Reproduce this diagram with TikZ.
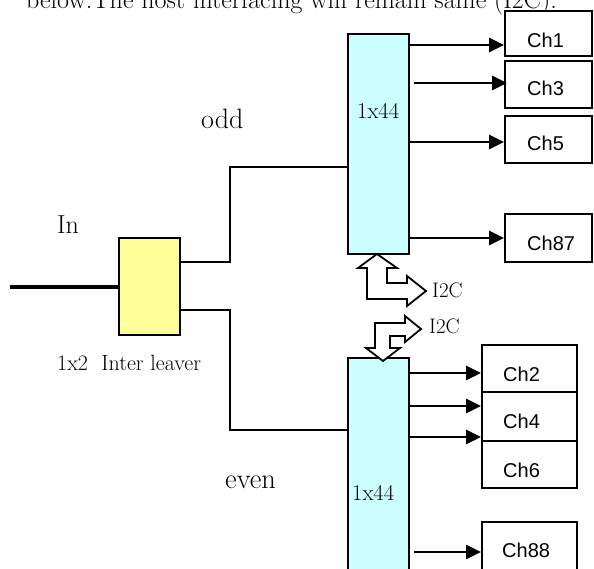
\documentclass[tikz,border=0pt]{standalone}
\usepackage{fontspec}
\newfontfamily\arialf{Liberation Sans}
\usetikzlibrary{arrows.meta,calc}
\definecolor{boxcyan}{HTML}{CCFFFF}
\definecolor{boxyellow}{HTML}{FFFF99}
\begin{document}
\begin{tikzpicture}[x=1pt,y=-1pt,
  mux/.style={draw, line width=1.8pt, fill=boxcyan, inner sep=0pt, minimum width=61pt},
  ilbox/.style={draw, line width=1.8pt, fill=boxyellow, inner sep=0pt},
  chbox/.style={draw, line width=1.8pt, fill=white, inner sep=0pt},
  chlabel/.style={anchor=base west, inner sep=0pt, font=\arialf\fontsize{20}{24}\selectfont},
  serif/.style={anchor=base west, inner sep=0pt, font=\fontsize{#1}{#1}\selectfont},
  wire/.style={line width=2pt},
  arr/.style={line width=2.6pt, -{Triangle[length=15pt,width=14pt]}},
  ifarrow/.style={draw, line width=1.8pt, fill=white, line join=miter}
]
\clip (0,0) rectangle (594,568);
\fill[white] (0,0) rectangle (594,568);

% top text (cut off by the page edge)
\node[serif=26] (toptext) at (26,8) {below.The host interfacing will remain same (I2C).};

% multiplexer boxes
\node[mux, minimum height=220pt] (up) at (378.5,144) {};
\node[mux, minimum height=242pt] (lo) at (378.5,479) {};
\node[serif=22.5] (upl) at (357,118) {1x44};
\node[serif=22.5] (lol) at (352,500) {1x44};

% interleaver
\node[ilbox, minimum width=61pt, minimum height=97pt] (il) at (149.5,286.5) {};
\coordinate (in) at (10,286.5);
\draw[line width=4pt] (in) -- (il.west);

% labels
\node[serif=26] (inl) at (57,233) {In};
\node[serif=28] (oddl) at (201,128) {odd};
\node[serif=28.5] (evenl) at (225,488) {even};
\node[serif=22] (ill) at (57,370) {1x2\ \ Inter leaver};

% interleaver outputs
\draw[wire] (il.east |- 0,262) -- ++(49,0) |- (up.west |- 0,167);
\draw[wire] (il.east |- 0,310) -- ++(49,0) |- (lo.west |- 0,430);

% upper channel boxes
\node[chbox, minimum width=87pt, minimum height=45pt] (ch1) at (548.5,33.5) {};
\node[chbox, minimum width=87pt, minimum height=47pt] (ch3) at (548.5,84.5) {};
\node[chbox, minimum width=87pt, minimum height=47pt] (ch5) at (548.5,139.5) {};
\node[chbox, minimum width=87pt, minimum height=48pt] (ch87) at (548.5,238) {};
\node[chlabel] (ch1l) at (527,47) {Ch1};
\node[chlabel] (ch3l) at (527,95) {Ch3};
\node[chlabel] (ch5l) at (527,150) {Ch5};
\node[chlabel] (ch87l) at (527,250) {Ch87};

% lower channel boxes
\node[chbox, minimum width=95pt, minimum height=47pt] (ch2) at (529.5,368.5) {};
\node[chbox, minimum width=95pt, minimum height=49pt] (ch4) at (529.5,416.5) {};
\node[chbox, minimum width=95pt, minimum height=47pt] (ch6) at (529.5,464.5) {};
\node[chbox, minimum width=95pt, minimum height=78pt] (ch88) at (529.5,561) {};
\node[chlabel] (ch2l) at (503,381) {Ch2};
\node[chlabel] (ch4l) at (503,428) {Ch4};
\node[chlabel] (ch6l) at (503,477) {Ch6};
\node[chlabel] (ch88l) at (502,557) {Ch88};

% arrows upper
\draw[arr] (up.east |- 0,45) -- (ch1.west |- 0,45);
\draw[arr] ($(up.east |- 0,83)+(4,0)$) -- ($(ch3.west |- 0,83)+(3,0)$);
\draw[arr] (up.east |- 0,142) -- (ch5.west |- 0,142);
\draw[arr] (up.east |- 0,238) -- (ch87.west |- 0,238);

% arrows lower
\draw[arr] (lo.east |- 0,373) -- (ch2.west |- 0,373);
\draw[arr] (lo.east |- 0,406) -- (ch4.west |- 0,406);
\draw[arr] (lo.east |- 0,437) -- (ch6.west |- 0,437);
\draw[arr] ($(lo.east |- 0,552)+(4,0)$) -- (ch88.west |- 0,552);

% I2C interface arrows
\path[ifarrow] (377,254) -- (397,268) -- (387,268) -- (387,283) -- (407,283) -- (407,276)
  -- (426,291) -- (407,306) -- (407,299) -- (367,299) -- (367,268) -- (358,268) -- cycle;
\path[ifarrow] (375,323) -- (405,323) -- (405,316) -- (421,329) -- (405,342) -- (405,336)
  -- (390,336) -- (390,348) -- (400,348) -- (383,361) -- (366,348) -- (375,348) -- cycle;
\node[serif=21] (i2cu) at (432,297) {I2C};
\node[serif=21] (i2cl) at (429,333) {I2C};
\end{tikzpicture}
\end{document}
